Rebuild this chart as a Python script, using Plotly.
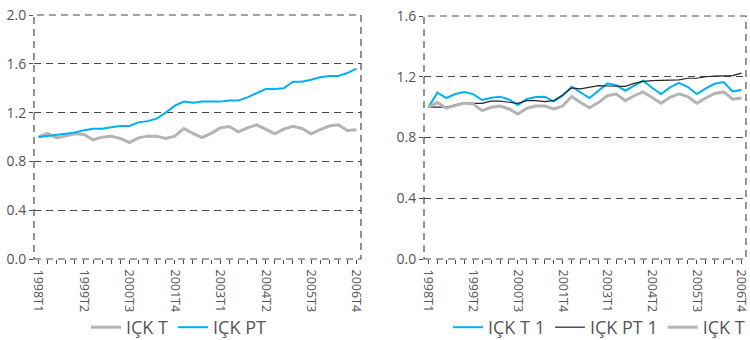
import plotly.graph_objects as go

quarters = [f"{y}T{q}" for y in range(1998, 2007) for q in range(1, 5)]
tick_labels = ["1998T1", "1999T2", "2000T3", "2001T4", "2003T1", "2004T2", "2005T3", "2006T4"]

ick_t = [1.00, 1.03, 0.993, 1.012, 1.026, 1.02, 0.977, 0.999, 1.007, 0.988,
         0.955, 0.993, 1.007, 1.007, 0.988, 1.007, 1.07, 1.03, 0.996, 1.03,
         1.075, 1.086, 1.042, 1.075, 1.10, 1.064, 1.026, 1.064, 1.088, 1.07,
         1.026, 1.06, 1.09, 1.10, 1.053, 1.06]
ick_pt = [1.00, 1.007, 1.018, 1.026, 1.037, 1.056, 1.067, 1.067, 1.08, 1.09,
          1.09, 1.12, 1.13, 1.15, 1.20, 1.257, 1.29, 1.28, 1.29, 1.29,
          1.29, 1.30, 1.30, 1.325, 1.36, 1.393, 1.393, 1.40, 1.453, 1.453,
          1.47, 1.49, 1.50, 1.50, 1.524, 1.56]
ick_t_1 = [1.00, 1.095, 1.06, 1.086, 1.10, 1.086, 1.047, 1.062, 1.069, 1.05,
           1.014, 1.054, 1.067, 1.069, 1.038, 1.075, 1.134, 1.097, 1.06, 1.108,
           1.156, 1.145, 1.108, 1.141, 1.174, 1.128, 1.086, 1.13, 1.16, 1.132,
           1.086, 1.123, 1.154, 1.165, 1.104, 1.113]
ick_pt_1 = [1.00, 1.00, 1.00, 1.015, 1.03, 1.025, 1.025, 1.04, 1.04, 1.032,
            1.025, 1.043, 1.043, 1.036, 1.043, 1.08, 1.126, 1.12, 1.13, 1.141,
            1.139, 1.137, 1.137, 1.156, 1.17, 1.174, 1.174, 1.178, 1.18, 1.19,
            1.19, 1.20, 1.204, 1.207, 1.207, 1.224]

BLUE = "#00B0F0"
GRAY = "#B4B4B4"
BLACK = "#262626"
GRID = "#4a4a4a"
TXT = "#555555"
FONT = "Open Sans"
DASH = "7px,5px"

fig = go.Figure()
fig.add_trace(go.Scatter(x=quarters, y=ick_t, mode="lines", name="IÇK T",
                         line=dict(color=GRAY, width=3), xaxis="x", yaxis="y", legend="legend"))
fig.add_trace(go.Scatter(x=quarters, y=ick_pt, mode="lines", name="IÇK PT",
                         line=dict(color=BLUE, width=2), xaxis="x", yaxis="y", legend="legend"))
fig.add_trace(go.Scatter(x=quarters, y=ick_t_1, mode="lines", name="IÇK T 1",
                         line=dict(color=BLUE, width=2), xaxis="x2", yaxis="y2", legend="legend2"))
fig.add_trace(go.Scatter(x=quarters, y=ick_pt_1, mode="lines", name="IÇK PT 1",
                         line=dict(color=BLACK, width=1.2), xaxis="x2", yaxis="y2", legend="legend2"))
fig.add_trace(go.Scatter(x=quarters, y=ick_t, mode="lines", name="IÇK T",
                         line=dict(color=GRAY, width=3), xaxis="x2", yaxis="y2", legend="legend2"))

ticktext = [q if q in tick_labels else "" for q in quarters]
xcommon = dict(type="category", categoryorder="array", categoryarray=quarters,
               range=[-0.5, 35.5], tickmode="array", tickvals=quarters, ticktext=ticktext,
               tickangle=90, ticks="outside", ticklen=4, tickcolor=GRID, automargin=False,
               ticklabelstandoff=3,
               showgrid=False, zeroline=False, showline=False,
               tickfont=dict(family=FONT, size=12.5, color=TXT))
ycommon = dict(showgrid=True, gridcolor=GRID, griddash=DASH, gridwidth=1, automargin=False,
               zeroline=False, showline=False, ticks="outside", ticklen=4, tickcolor=GRID,
               tickformat=".1f", tickfont=dict(family=FONT, size=14, color=TXT))

L, R, T, B = 34, 4, 15, 81
W = 750 - L - R
H = 340 - T - B
d1 = [0, 327 / W]
d2 = [(424 - L) / W, 1.0]

legfont = dict(family=FONT, size=18, color=TXT)
fig.update_layout(
    width=750, height=340,
    margin=dict(l=L, r=R, t=T, b=B),
    paper_bgcolor="white", plot_bgcolor="white",
    xaxis=dict(domain=d1, anchor="y", **xcommon),
    yaxis=dict(domain=[0, 1], anchor="x", range=[0, 2.0], tickvals=[0, 0.4, 0.8, 1.2, 1.6, 2.0], **ycommon),
    xaxis2=dict(domain=d2, anchor="y2", **xcommon),
    yaxis2=dict(domain=[0, 243 / H], anchor="x2", range=[0, 1.6], tickvals=[0, 0.4, 0.8, 1.2, 1.6], **ycommon),
    legend=dict(orientation="h", xref="container", yref="container",
                x=86 / 750, xanchor="left", y=(340 - 309) / 340, yanchor="top",
                font=legfont, itemwidth=30, bgcolor="rgba(0,0,0,0)"),
    legend2=dict(orientation="h", xref="container", yref="container",
                 x=1.0, xanchor="right", y=(340 - 309) / 340, yanchor="top",
                 font=legfont, itemwidth=30, bgcolor="rgba(0,0,0,0)"),
    showlegend=True,
)

for xr, yr in (("x domain", "y domain"), ("x2 domain", "y2 domain")):
    fig.add_shape(type="rect", xref=xr, yref=yr, x0=0, x1=1, y0=0, y1=1,
                  line=dict(color=GRID, width=1.2, dash=DASH), layer="below")

fig.write_html("out.html", config={"displayModeBar": False},
               post_script="document.body.style.margin='0';document.body.style.overflow='hidden';")
